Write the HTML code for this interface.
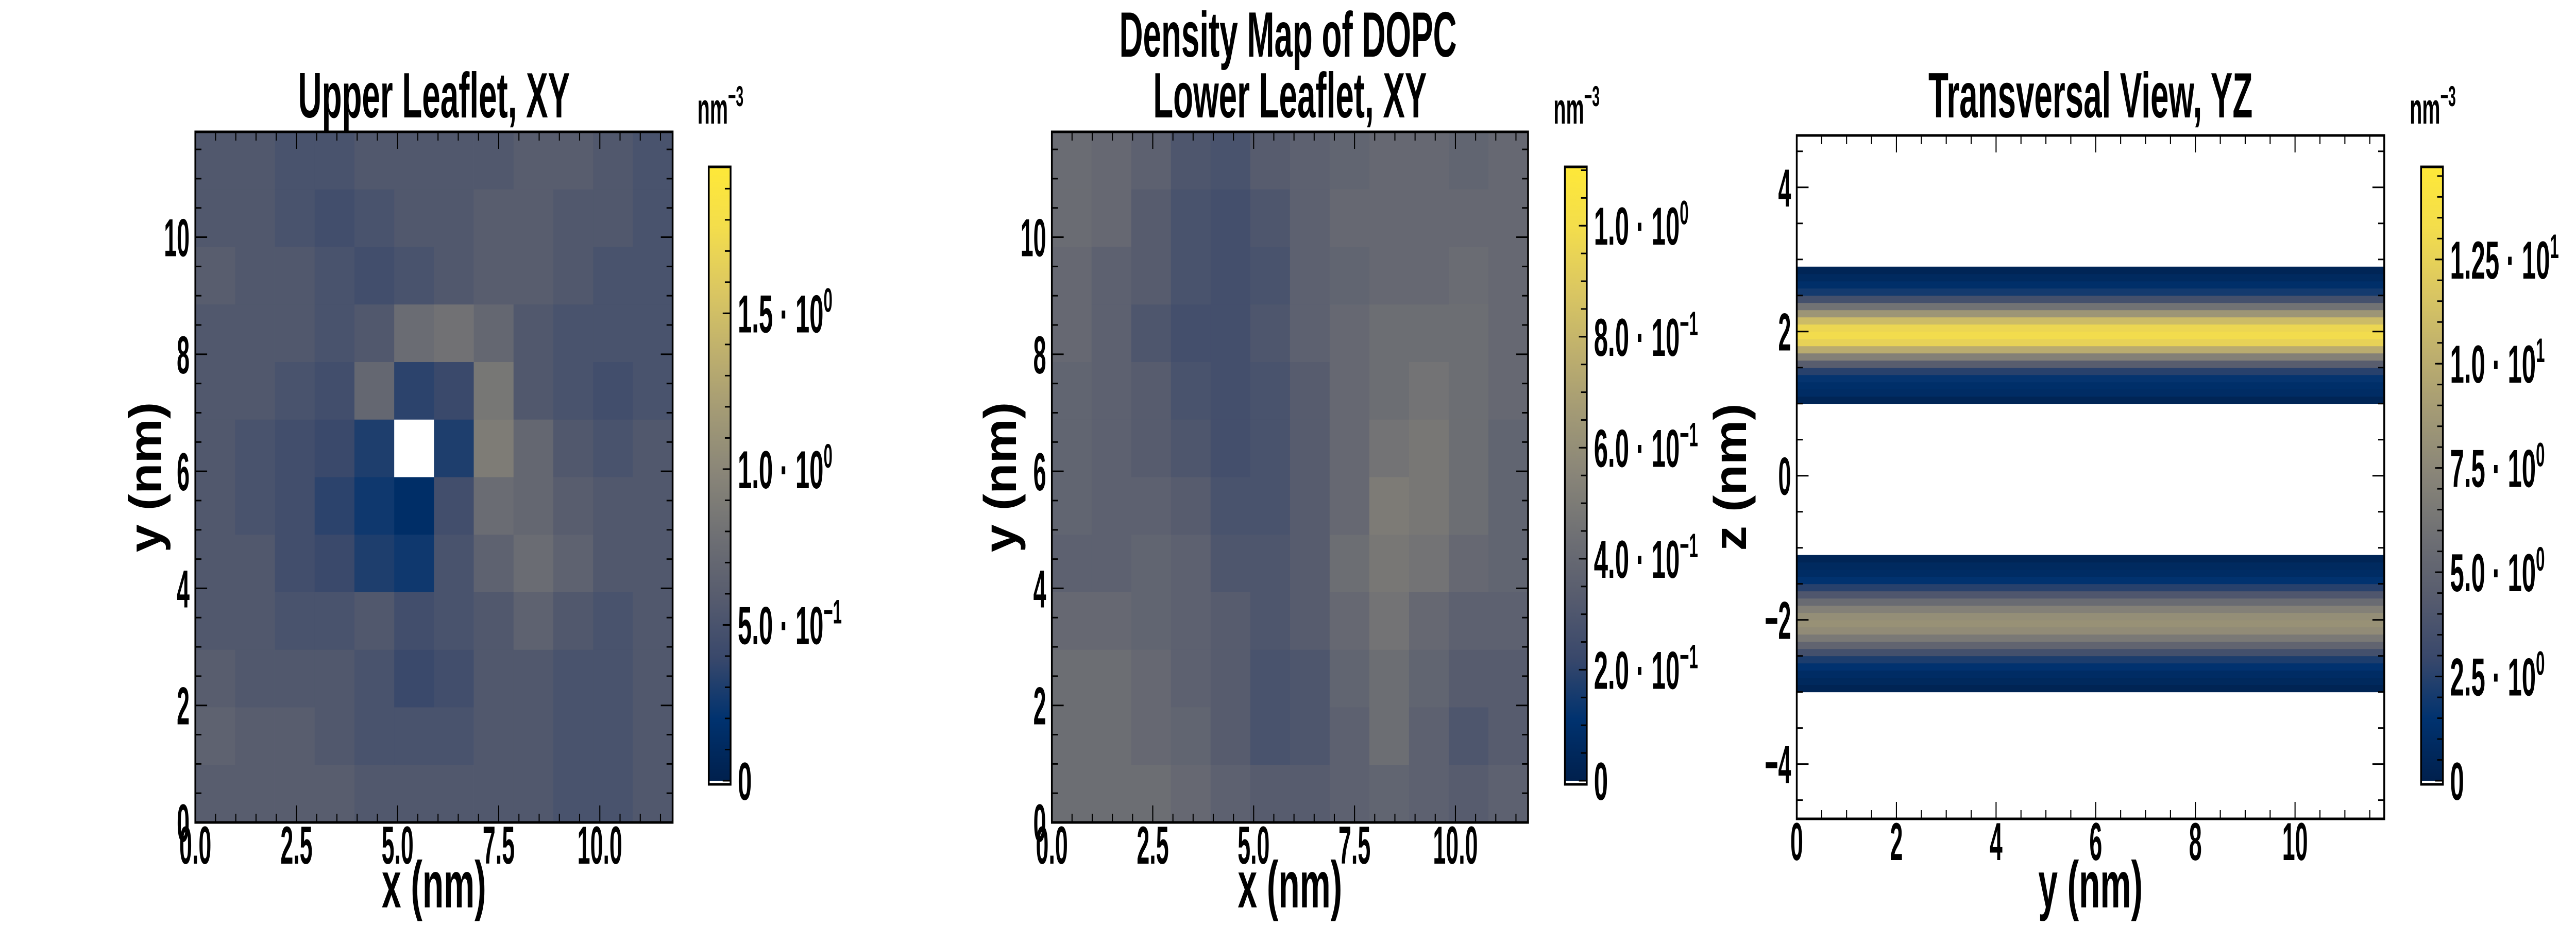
<!DOCTYPE html>
<html><head><meta charset="utf-8"><style>
html,body{margin:0;padding:0;background:#fff;overflow:hidden;width:100vw;height:100vh;}
svg{display:block;width:100vw;height:100vh;}
text{font-family:"Liberation Sans",sans-serif;font-weight:bold;fill:#000;}
</style></head><body>
<svg id="fig" viewBox="0 0 7200 1800" preserveAspectRatio="none" xmlns="http://www.w3.org/2000/svg">
<defs></defs>
<text id="maintitle" x="3600" y="110" font-size="124" text-anchor="middle">Density Map of DOPC</text>
</svg>
<script>
// ---- data ----
const upperGrid = [
[0.55,0.55,0.5,0.5,0.55,0.55,0.55,0.55,0.6,0.6,0.55,0.5],
[0.55,0.55,0.5,0.45,0.5,0.55,0.55,0.6,0.6,0.55,0.55,0.5],
[0.6,0.55,0.55,0.5,0.45,0.5,0.55,0.6,0.6,0.55,0.5,0.5],
[0.55,0.55,0.55,0.5,0.55,0.75,0.8,0.7,0.55,0.5,0.5,0.5],
[0.55,0.55,0.5,0.45,0.7,0.35,0.4,0.85,0.55,0.5,0.45,0.5],
[0.55,0.5,0.45,0.4,0.3,0,0.3,0.9,0.7,0.55,0.5,0.55],
[0.55,0.5,0.45,0.35,0.25,0.15,0.45,0.75,0.7,0.6,0.55,0.55],
[0.55,0.55,0.45,0.4,0.3,0.25,0.5,0.65,0.75,0.65,0.55,0.55],
[0.55,0.55,0.5,0.5,0.55,0.45,0.5,0.55,0.65,0.55,0.5,0.55],
[0.6,0.55,0.55,0.55,0.5,0.4,0.45,0.55,0.55,0.5,0.5,0.55],
[0.65,0.6,0.6,0.55,0.5,0.5,0.5,0.55,0.55,0.5,0.5,0.55],
[0.6,0.6,0.6,0.6,0.55,0.55,0.55,0.55,0.55,0.5,0.5,0.55]];
const lowerGrid = [
[.42,.4,.36,.3,.28,.33,.36,.38,.4,.4,.38,.4],
[.42,.4,.33,.28,.26,.3,.36,.4,.4,.4,.4,.4],
[.4,.36,.33,.28,.26,.28,.36,.38,.4,.4,.42,.4],
[.4,.36,.3,.26,.26,.3,.36,.4,.43,.43,.43,.4],
[.38,.36,.33,.28,.26,.28,.33,.4,.43,.46,.43,.4],
[.38,.36,.33,.3,.26,.28,.33,.4,.46,.48,.43,.38],
[.38,.36,.36,.33,.28,.28,.33,.4,.5,.48,.43,.38],
[.36,.36,.38,.36,.3,.3,.33,.43,.48,.46,.4,.38],
[.4,.4,.38,.36,.33,.3,.33,.4,.46,.4,.36,.36],
[.43,.43,.4,.36,.33,.28,.3,.38,.43,.38,.33,.33],
[.43,.43,.4,.38,.33,.28,.3,.36,.43,.36,.3,.33],
[.43,.43,.43,.4,.36,.33,.33,.36,.38,.36,.33,.36]];
const zCenters = [-2.95,-2.85,-2.75,-2.65,-2.55,-2.45,-2.35,-2.25,-2.15,-2.05,-1.95,-1.85,-1.75,-1.65,-1.55,-1.45,-1.35,-1.25,-1.15,
 1.05,1.15,1.25,1.35,1.45,1.55,1.65,1.75,1.85,1.95,2.05,2.15,2.25,2.35,2.45,2.55,2.65,2.75,2.85];
const zDensity = [0.3,0.7,1.0,1.5,2.2,3.5,5,6.5,7.8,8.2,8,7,5.5,4,2.5,1.5,1.0,0.8,0.4,
 0.4,1.0,1.2,1.6,2.5,4.5,7,10,12.5,13.2,12.8,11,8.5,6,3.5,2,1.2,0.8,0.4];
const cbar1Ticks = [0,0.5,1.0,1.5];
const cbar1Labels = ["0","5.0 · 10|−1","1.0 · 10|0","1.5 · 10|0"];
const cbar2Ticks = [0,0.2,0.4,0.6,0.8,1.0];
const cbar2Labels = ["0","2.0 · 10|−1","4.0 · 10|−1","6.0 · 10|−1","8.0 · 10|−1","1.0 · 10|0"];
const cbar3Ticks = [0,2.5,5,7.5,10,12.5];
const cbar3Labels = ["0","2.5 · 10|0","5.0 · 10|0","7.5 · 10|0","1.0 · 10|1","1.25 · 10|1"];

// ---- helpers ----
const NS="http://www.w3.org/2000/svg";
const svg=document.getElementById('fig');
function mk(tag,attrs,parent){const e=document.createElementNS(NS,tag);for(const k in attrs)e.setAttribute(k,attrs[k]);(parent||svg).appendChild(e);return e;}
function cond(t,rot,sx){const x=t.getAttribute('x'),y=t.getAttribute('y');t.setAttribute('x',0);t.setAttribute('y',0);
  t.setAttribute('transform',`translate(${x} ${y})${rot?' rotate(-90)':''} scale(${sx||0.64} 1)`);}
cond(document.getElementById('maintitle'),false,0.74);
const cmapStops=[[0,[0,32,77]],[0.1,[0,50,111]],[0.2,[57,72,107]],[0.3,[87,92,110]],[0.4,[111,112,116]],[0.5,[137,133,120]],[0.6,[163,154,117]],[0.7,[191,176,109]],[0.8,[219,199,97]],[0.9,[243,221,76]],[1,[254,232,56]]];
function cmap(t){t=Math.max(0,Math.min(1,t));for(let i=1;i<cmapStops.length;i++){if(t<=cmapStops[i][0]){const a=cmapStops[i-1],b=cmapStops[i];const f=(t-a[0])/(b[0]-a[0]);const c=a[1].map((v,j)=>Math.round(v+(b[1][j]-v)*f));return `rgb(${c[0]},${c[1]},${c[2]})`;}}return 'rgb(254,232,56)';}
const defs=svg.querySelector('defs');
const grad=mk('linearGradient',{id:'cg',x1:0,y1:1,x2:0,y2:0},defs);
for(let i=0;i<=20;i++){mk('stop',{offset:i/20,'stop-color':cmap(i/20)},grad);}

function makeAxes(o){
  const sx=v=>o.x0+(v-o.xmin)/(o.xmax-o.xmin)*(o.x1-o.x0);
  const sy=v=>o.y1-(v-o.ymin)/(o.ymax-o.ymin)*(o.y1-o.y0);
  return {sx,sy};
}
function drawFrame(o,ax){
  const g=mk('g',{});
  
  
  function ticks(vals,len,isX){
    vals.forEach(v=>{
      if(isX){const x=ax.sx(v);
        mk('line',{x1:x,y1:o.y1,x2:x,y2:o.y1-len,stroke:'#000','stroke-width':3},g);
        mk('line',{x1:x,y1:o.y0,x2:x,y2:o.y0+len,stroke:'#000','stroke-width':3},g);
      } else {const y=ax.sy(v);
        mk('line',{x1:o.x0,y1:y,x2:o.x0+len,y2:y,stroke:'#000','stroke-width':3},g);
        mk('line',{x1:o.x1,y1:y,x2:o.x1-len,y2:y,stroke:'#000','stroke-width':3},g);
      }
    });
  }
  const xm=[],xn=[],ym=[],yn=[];
  for(let v=o.xmin;v<=o.xmax+1e-9;v+=o.xminor){const r=Math.round(v*1000)/1000;(Math.abs(r/o.xmajor-Math.round(r/o.xmajor))<1e-6?xm:xn).push(r);}
  for(let v=Math.ceil(o.ymin/o.yminor)*o.yminor;v<=o.ymax+1e-9;v+=o.yminor){const r=Math.round(v*1000)/1000;(Math.abs(r/o.ymajor-Math.round(r/o.ymajor))<1e-6?ym:yn).push(r);}
  ticks(xn,17,true);ticks(xm,33,true);ticks(yn,17,false);ticks(ym,33,false);
  mk('rect',{x:o.x0,y:o.y0,width:o.x1-o.x0,height:o.y1-o.y0,fill:'none',stroke:'#000','stroke-width':5},g);
  xm.forEach(v=>{const t=mk('text',{x:ax.sx(v),y:o.y1+80,'font-size':104,'text-anchor':'middle'});t.textContent=o.xfmt(v);cond(t,false,0.62);
    
    });
  ym.forEach(v=>{const t=mk('text',{x:o.x0-16,y:ax.sy(v)+37,'font-size':104,'text-anchor':'end'});t.textContent=(v<0?'−':'')+Math.abs(v);cond(t,false,0.62);
    
    });
  const xl=mk('text',{x:(o.x0+o.x1)/2,y:1762,'font-size':128,'text-anchor':'middle'});xl.textContent=o.xlabel;cond(xl,false,0.76);
  
  
  const yl=mk('text',{x:o.ylabelX,y:(o.y0+o.y1)/2,'font-size':128,'text-anchor':'middle'});yl.textContent=o.ylabel;cond(yl,true,0.76);
  
  
  const tt=mk('text',{x:(o.x0+o.x1)/2,y:228,'font-size':124,'text-anchor':'middle'});tt.textContent=o.title;cond(tt,false,0.74);
  
  
}
function drawGrid(o,ax,grid,vmax){
  const g=mk('g',{});
  
  
  const n=grid.length,m=grid[0].length;
  const dx=(o.xmax-o.xmin)/m, dy=(o.ymax-o.ymin)/n;
  grid.forEach((row,r)=>row.forEach((v,c)=>{
    const xa=ax.sx(o.xmin+c*dx), xb=ax.sx(o.xmin+(c+1)*dx);
    const ya=ax.sy(o.ymax-r*dy), yb=ax.sy(o.ymax-(r+1)*dy);
    const cell=mk('rect',{x:xa,y:ya,width:xb-xa+0.5,height:yb-ya+0.5,fill:v<=0?'#ffffff':cmap(v/vmax)},g);
    
    
  }));
}
function drawCbar(cx,name,vmax,ticks,labels,minor){
  const x0=cx,x1=cx+61,top=324,zero=1516,bot=1523;
  const g=mk('g',{});
  
  
  mk('rect',{x:x0,y:top,width:x1-x0,height:zero-top,fill:'url(#cg)'},g);
  mk('rect',{x:x0,y:zero,width:x1-x0,height:bot-zero,fill:'#fff'},g);
  const sc=v=>zero-v/vmax*(zero-top);
  for(let v=minor;v<vmax;v+=minor){mk('line',{x1:x1,x2:x1-16,y1:sc(v),y2:sc(v),stroke:'#000','stroke-width':3},g);}
  ticks.forEach((v,i)=>{
    mk('line',{x1:x1,x2:x1-22,y1:sc(v),y2:sc(v),stroke:'#000','stroke-width':3},g);
    const t=mk('text',{x:x1+20,y:sc(v)+37,'font-size':104},g);
    const parts=labels[i].split('|');
    t.textContent=parts[0];
    if(parts[1]){const s=mk('tspan',{'font-size':66,dy:-40},t);s.textContent=parts[1];}
    cond(t,false,0.68);
    
    
  });
  mk('rect',{x:x0,y:top,width:x1-x0,height:bot-top,fill:'none',stroke:'#000','stroke-width':5},g);
  const u=mk('text',{x:x0-32,y:240,'font-size':84},g);u.textContent='nm';
  const s=mk('tspan',{'font-size':56,dy:-34},u);s.textContent='−3';
  cond(u,false,0.68);
  
  
}
const fmt1=v=>v.toFixed(1);
const p1={name:'upper-leaflet',x0:546,x1:1880,y0:256,y1:1597,xmin:0,xmax:11.8,ymin:0,ymax:11.8,xmajor:2.5,xminor:0.5,ymajor:2,yminor:0.5,xfmt:fmt1,xlabel:'x (nm)',ylabel:'y (nm)',ylabelX:450,title:'Upper Leaflet, XY'};
const a1=makeAxes(p1);drawGrid(p1,a1,upperGrid,1.97);drawFrame(p1,a1);
drawCbar(1981,'upper-colorbar',1.97,cbar1Ticks,cbar1Labels,0.1);
const p2={name:'lower-leaflet',x0:2940,x1:4271,y0:256,y1:1597,xmin:0,xmax:11.8,ymin:0,ymax:11.8,xmajor:2.5,xminor:0.5,ymajor:2,yminor:0.5,xfmt:fmt1,xlabel:'x (nm)',ylabel:'y (nm)',ylabelX:2840,title:'Lower Leaflet, XY'};
const a2=makeAxes(p2);drawGrid(p2,a2,lowerGrid,1.106);drawFrame(p2,a2);
drawCbar(4374,'lower-colorbar',1.106,cbar2Ticks,cbar2Labels,0.05);
const p3={name:'transversal',x0:5022,x1:6664,y0:263,y1:1590,xmin:0,xmax:11.79,ymin:-4.76,ymax:4.72,xmajor:2,xminor:0.5,ymajor:2,yminor:0.5,xfmt:v=>String(v),xlabel:'y (nm)',ylabel:'z (nm)',ylabelX:4880,title:'Transversal View, YZ'};
const a3=makeAxes(p3);
(function(){const g=mk('g',{});
  
  
  zCenters.forEach((z,i)=>{const ya=a3.sy(z+0.05),yb=a3.sy(z-0.05);
    const r=mk('rect',{x:p3.x0,y:ya,width:p3.x1-p3.x0,height:yb-ya+0.5,fill:cmap(zDensity[i]/14.72)},g);
    
    });})();
drawFrame(p3,a3);
drawCbar(6767,'transversal-colorbar',14.72,cbar3Ticks,cbar3Labels,0.5);
</script>
</body></html>
